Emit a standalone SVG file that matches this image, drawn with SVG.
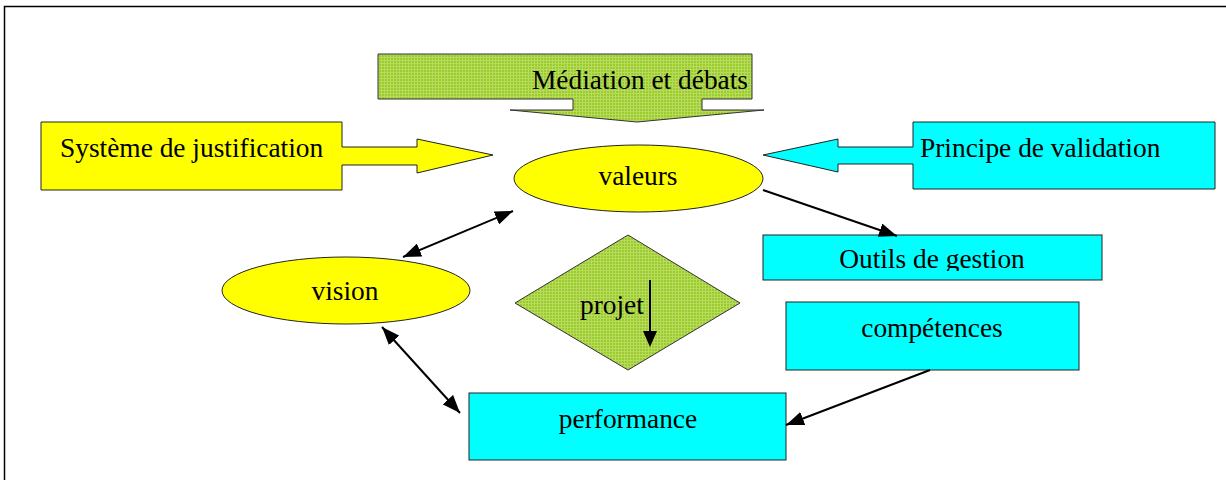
<svg xmlns="http://www.w3.org/2000/svg" width="1226" height="480" viewBox="0 0 1226 480">
<style>
  .t{font-family:"Liberation Serif","Times New Roman",serif;font-size:27.4px;fill:#000}
  .yel{fill:#FFFF00;stroke:#222;stroke-width:1}
  .cya{fill:#00FFFF;stroke:#222;stroke-width:1}
  .grn{fill:url(#grid);stroke:#333;stroke-width:1}
  .con{stroke:#000;stroke-width:2;fill:none}
</style>
<defs>
  <pattern id="grid" width="3" height="3" patternUnits="userSpaceOnUse">
    <rect width="3" height="3" fill="#9CCB2C"/>
    <rect width="3" height="1" fill="#B6DB5E"/>
    <rect width="1" height="3" fill="#B6DB5E"/>
  </pattern>
  <marker id="ah" viewBox="0 0 18 14" refX="18" refY="7" markerWidth="18" markerHeight="14" markerUnits="userSpaceOnUse" orient="auto-start-reverse">
    <path d="M0,0 L18,7 L0,14 Z" fill="#000"/>
  </marker>
  <clipPath id="clipOutils"><rect x="763" y="235" width="339" height="36"/></clipPath>
</defs>
<rect x="4.5" y="6.5" width="1240" height="500" fill="none" stroke="#000" stroke-width="1.5"/>

<g id="mediation">
  <polygon class="grn" points="378,54 752,54 752,99 702,99 702,110 764,110 637,122 510,110 573,110 573,99 378,99"/>
  <text class="t" x="532" y="89">Médiation et débats</text>
</g>
<g id="justification">
  <polygon class="yel" points="41,122 342,122 342,147 417,147 417,139 493,155 417,173 417,165 342,165 342,190 41,190"/>
  <text class="t" x="60" y="157">Système de justification</text>
</g>
<g id="validation">
  <polygon class="cya" points="913,122 1215,122 1215,189 913,189 913,164 838,164 838,172 763,155 838,139 838,147 913,147"/>
  <text class="t" x="920" y="157">Principe de validation</text>
</g>
<g id="valeurs">
  <ellipse class="yel" cx="638.5" cy="178.5" rx="124.5" ry="33.5"/>
  <text class="t" x="638" y="185" text-anchor="middle">valeurs</text>
</g>
<g id="vision">
  <ellipse class="yel" cx="346" cy="290.5" rx="124" ry="33.5"/>
  <text class="t" x="345" y="300" text-anchor="middle">vision</text>
</g>
<g id="projet">
  <polygon class="grn" points="628,235 740,303 628,370 515,303"/>
  <text class="t" x="580" y="314">projet</text>
  <line x1="650" y1="280" x2="650" y2="333" stroke="#000" stroke-width="2"/>
  <polygon points="643,331 657,331 650,347" fill="#000"/>
</g>
<g id="outils">
  <rect class="cya" x="763" y="235" width="339" height="45"/>
  <text class="t" x="932" y="268" text-anchor="middle" clip-path="url(#clipOutils)">Outils de gestion</text>
</g>
<g id="competences">
  <rect class="cya" x="786" y="302" width="293" height="68"/>
  <text class="t" x="932" y="337" text-anchor="middle">compétences</text>
</g>
<g id="performance">
  <rect class="cya" x="469" y="393" width="317" height="67"/>
  <text class="t" x="628" y="428" text-anchor="middle">performance</text>
</g>

<g id="connectors">
  <line class="con" x1="403" y1="257" x2="513" y2="211" marker-start="url(#ah)" marker-end="url(#ah)"/>
  <line class="con" x1="763" y1="190" x2="897" y2="236" marker-end="url(#ah)"/>
  <line class="con" x1="382" y1="327" x2="460" y2="413" marker-start="url(#ah)" marker-end="url(#ah)"/>
  <line class="con" x1="930" y1="370" x2="786" y2="425" marker-end="url(#ah)"/>
</g>
</svg>
